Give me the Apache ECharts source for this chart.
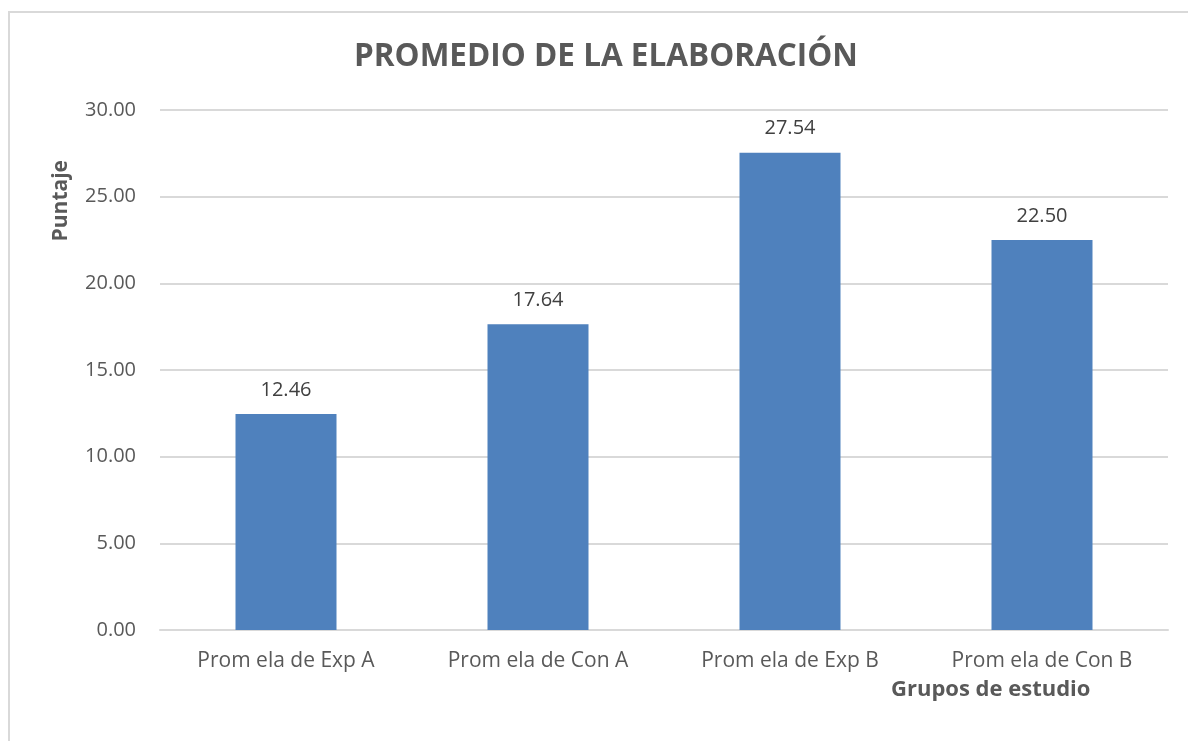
<!DOCTYPE html>
<html>
<head>
<meta charset="utf-8">
<script src="https://cdn.jsdelivr.net/npm/echarts@6/dist/echarts.min.js"></script>
<style>
  html, body { margin: 0; padding: 0; background: #ffffff; }
  #frame { position: absolute; left: 8px; top: 11px; width: 1190px; height: 740px; border: 2px solid #d9d9d9; box-sizing: border-box; }
  #chart { position: absolute; left: 0; top: 0; width: 1188px; height: 741px; }
</style>
</head>
<body>
<div id="frame"></div>
<div id="chart"></div>
<script>
// Groups and their average elaboration scores
const categories = ['Prom ela de Exp A', 'Prom ela de Con A', 'Prom ela de Exp B', 'Prom ela de Con B'];
const scores = [12.46, 17.64, 27.54, 22.50];
const yTicks = { min: 0, max: 30, interval: 5 };

const FONT = '"Open Sans", "Noto Sans", sans-serif';
const GREY = '#595959';

const chart = echarts.init(document.getElementById('chart'), null, { renderer: 'canvas' });
chart.setOption({
  animation: false,
  backgroundColor: 'transparent',
  title: {
    text: 'PROMEDIO DE LA ELABORACIÓN',
    left: 349,
    top: 36,
    textStyle: { fontFamily: FONT, fontSize: 31.5, fontWeight: 'bold', color: GREY }
  },
  grid: { left: 160, right: 20, top: 110, bottom: 111, containLabel: false },
  xAxis: {
    type: 'category',
    data: categories,
    axisLine: { show: true, lineStyle: { color: '#d9d9d9', width: 2 } },
    axisTick: { show: false },
    axisLabel: { fontFamily: FONT, fontSize: 21, color: GREY, margin: 21 },
    splitLine: { show: false }
  },
  yAxis: {
    type: 'value',
    min: yTicks.min,
    max: yTicks.max,
    interval: yTicks.interval,
    axisLine: { show: false },
    axisTick: { show: false },
    axisLabel: { fontFamily: FONT, fontSize: 20, color: GREY, margin: 24, formatter: v => v.toFixed(2) },
    splitLine: { lineStyle: { color: '#d9d9d9', width: 2 } }
  },
  series: [{
    type: 'bar',
    data: scores,
    barWidth: 101,
    itemStyle: { color: '#4f81bd' },
    label: {
      show: true,
      position: 'top',
      distance: 14,
      fontFamily: FONT,
      fontSize: 20,
      color: '#404040',
      formatter: p => p.value.toFixed(2)
    }
  }],
  graphic: [
    {
      type: 'text',
      left: 51,
      top: 160,
      rotation: Math.PI / 2,
      style: { text: 'Puntaje', font: 'bold 21px ' + FONT, fill: GREY }
    },
    {
      type: 'text',
      left: 891,
      top: 679,
      style: { text: 'Grupos de estudio', font: 'bold 22px ' + FONT, fill: GREY }
    }
  ]
});
</script>
</body>
</html>
